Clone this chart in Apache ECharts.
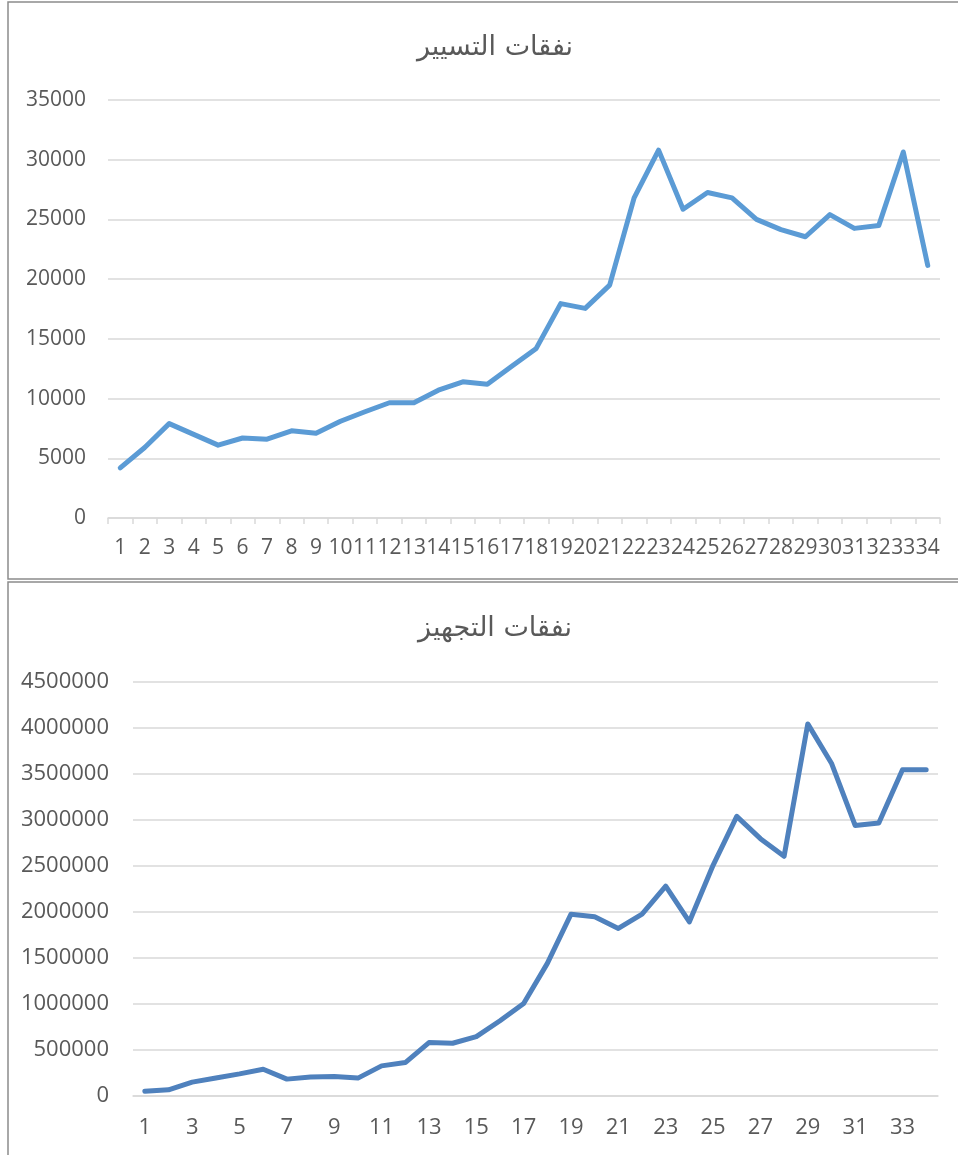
<!DOCTYPE html>
<html>
<head>
<meta charset="utf-8">
<script src="https://cdn.jsdelivr.net/npm/echarts@6/dist/echarts.min.js"></script>
<style>
  html, body { margin: 0; padding: 0; background: #fff; }
  #chart { width: 958px; height: 1155px; }
</style>
</head>
<body>
<div id="chart"></div>
<script>
    // 两个图表的数据
    var titleTop = 'نفقات التسيير';
    var titleBottom = 'نفقات التجهيز';

    var days = [];
    for (var i = 1; i <= 34; i++) {
        days.push(String(i));
    }

    // نفقات التسيير
    var runningCost = [4200, 5900, 7900, 7000, 6100, 6700, 6600, 7300, 7100, 8100,
        8900, 9650, 9650, 10700, 11400, 11200, 12700, 14200, 17950, 17550,
        19500, 26800, 30800, 25850, 27250, 26800, 25000, 24150, 23550, 25400,
        24250, 24500, 30650, 21150];

    // نفقات التجهيز
    var equipCost = [45000, 62000, 145000, 190000, 235000, 286000, 178000, 200000, 206000, 189000,
        322000, 358000, 575000, 568000, 640000, 813000, 1000000, 1436000, 1971000, 1942000,
        1816000, 1971000, 2275000, 1888000, 2502000, 3034000, 2792000, 2600000, 4039000, 3612000,
        2936000, 2961000, 3540000, 3540000];

    var chart = echarts.init(document.getElementById('chart'));

    var labelColor = '#595959';
    var gridColor = '#d9d9d9';
    var plain = function (v) { return String(v); }; // 不要千位分隔符

    chart.setOption({
        animation: false,
        // 外边框
        graphic: [
            {
                type: 'rect',
                shape: { x: 8, y: 2, width: 980, height: 577 },
                style: { fill: 'none', stroke: '#8c8c8c', lineWidth: 1.5 }
            },
            {
                type: 'rect',
                shape: { x: 8, y: 582, width: 980, height: 600 },
                style: { fill: 'none', stroke: '#8c8c8c', lineWidth: 1.5 }
            }
        ],
        title: [
            {
                text: titleTop,
                left: 490,
                top: 29,
                textAlign: 'center',
                textStyle: {
                    color: labelColor,
                    fontFamily: 'DejaVu Sans',
                    fontWeight: 'normal',
                    fontSize: 27
                }
            },
            {
                text: titleBottom,
                left: 490,
                top: 610,
                textAlign: 'center',
                textStyle: {
                    color: labelColor,
                    fontFamily: 'DejaVu Sans',
                    fontWeight: 'normal',
                    fontSize: 27
                }
            }
        ],
        grid: [
            { left: 108, top: 100, width: 832, height: 418 },
            { left: 133, top: 681.5, width: 805, height: 414 }
        ],
        xAxis: [
            {
                type: 'category',
                gridIndex: 0,
                data: days,
                boundaryGap: true,
                axisLine: { lineStyle: { color: gridColor, width: 1.5 } },
                axisTick: { show: true, length: 6, lineStyle: { color: gridColor, width: 1.5 } },
                axisLabel: {
                    interval: 0,
                    margin: 20,
                    color: labelColor,
                    fontFamily: 'Open Sans',
                    fontSize: 21
                }
            },
            {
                type: 'category',
                gridIndex: 1,
                data: days,
                boundaryGap: true,
                axisLine: { lineStyle: { color: gridColor, width: 1.5 } },
                axisTick: { show: false },
                axisLabel: {
                    interval: 1,
                    margin: 21,
                    color: labelColor,
                    fontFamily: 'Open Sans',
                    fontSize: 22
                }
            }
        ],
        yAxis: [
            {
                type: 'value',
                gridIndex: 0,
                min: 0,
                max: 35000,
                interval: 5000,
                axisLine: { show: false },
                axisTick: { show: false },
                splitLine: { lineStyle: { color: gridColor, width: 1.5 } },
                axisLabel: {
                    margin: 22,
                    formatter: plain,
                    color: labelColor,
                    fontFamily: 'Open Sans',
                    fontSize: 21
                }
            },
            {
                type: 'value',
                gridIndex: 1,
                min: 0,
                max: 4500000,
                interval: 500000,
                axisLine: { show: false },
                axisTick: { show: false },
                splitLine: { lineStyle: { color: gridColor, width: 1.5 } },
                axisLabel: {
                    margin: 24,
                    formatter: plain,
                    color: labelColor,
                    fontFamily: 'Open Sans',
                    fontSize: 22
                }
            }
        ],
        series: [
            {
                type: 'line',
                xAxisIndex: 0,
                yAxisIndex: 0,
                data: runningCost,
                showSymbol: false,
                lineStyle: { color: '#5b9bd5', width: 5, cap: 'round', join: 'round' }
            },
            {
                type: 'line',
                xAxisIndex: 1,
                yAxisIndex: 1,
                data: equipCost,
                showSymbol: false,
                lineStyle: { color: '#4f81bd', width: 5, cap: 'round', join: 'round' }
            }
        ]
    });
</script>
</body>
</html>
